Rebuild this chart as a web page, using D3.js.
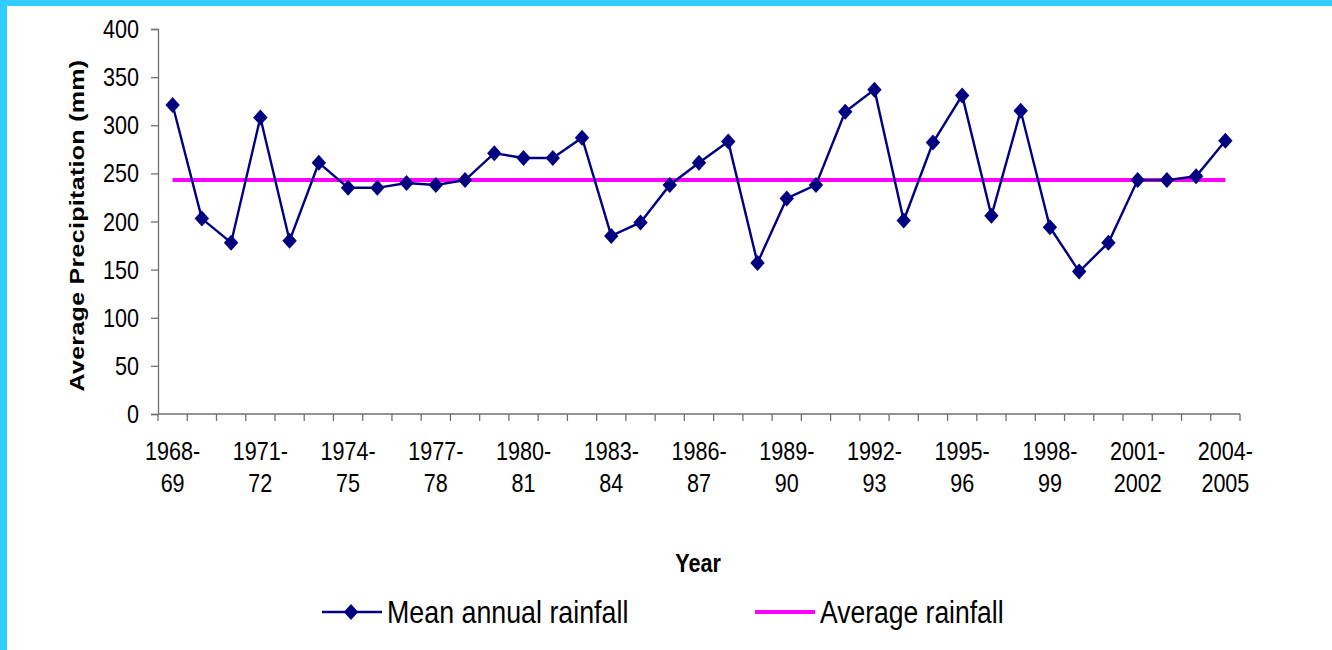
<!DOCTYPE html>
<html>
<head>
<meta charset="utf-8">
<script src="https://cdn.jsdelivr.net/npm/d3@7"></script>
<style>
  html, body { margin: 0; padding: 0; background: #fff; }
  svg { display: block; }
  text { font-family: "Liberation Sans", Arial, sans-serif; fill: #000; }
</style>
</head>
<body>
<svg id="chart" width="1332" height="650"></svg>
<script>
// Hydrological years
const seasons = [
  "1968-69","1969-70","1970-71","1971-72","1972-73","1973-74","1974-75","1975-76",
  "1976-77","1977-78","1978-79","1979-80","1980-81","1981-82","1982-83","1983-84",
  "1984-85","1985-86","1986-87","1987-88","1988-89","1989-90","1990-91","1991-92",
  "1992-93","1993-94","1994-95","1995-96","1996-97","1997-98","1998-99","1999-2000",
  "2000-2001","2001-2002","2002-2003","2003-2004","2004-2005"
];

// Mean annual rainfall per season (mm)
const meanRainfall = [
  321, 203, 178, 308, 180, 261, 235, 235, 240, 238, 243, 271, 266, 266, 287, 185,
  199, 238, 261, 283, 157, 224, 238, 314, 337, 201, 282, 331, 206, 315, 194, 148,
  178, 243, 243, 247, 284
];

// Long-term average rainfall (mm)
const averageRainfall = 243;

// Axis ticks and which seasons get a label
const yTicks = [0, 50, 100, 150, 200, 250, 300, 350, 400];
const labelledSeasons = seasons.filter((d, i) => i % 3 === 0);

// Text is drawn in a slightly narrowed face
const SX = 0.83;

const svg = d3.select("#chart");

// Frame
svg.append("rect").attr("x", 0).attr("y", 0).attr("width", 1332).attr("height", 6).attr("fill", "#33ccff");
svg.append("rect").attr("x", 0).attr("y", 0).attr("width", 7).attr("height", 650).attr("fill", "#33ccff");

const x = d3.scaleBand().domain(seasons).range([158, 1240]);
const y = d3.scaleLinear().domain([0, 400]).range([414, 29]);
const cx = d => x(d) + x.bandwidth() / 2;
const axisColor = "#707070";

// Narrow text helper: places text at (tx, ty) and compresses it horizontally
function narrowText(sel, tx, ty, size, anchor, sx) {
  return sel.append("text")
    .attr("transform", `translate(${tx},${ty}) scale(${sx || SX},1)`)
    .attr("font-size", size)
    .attr("text-anchor", anchor || "start");
}

// Y axis
const yAxis = svg.append("g")
  .attr("transform", "translate(158,0)")
  .call(d3.axisLeft(y).tickValues(yTicks).tickSize(7).tickFormat(""));
yAxis.select(".domain").attr("stroke", axisColor).attr("stroke-width", 1.3);
yAxis.selectAll(".tick line").attr("stroke", axisColor).attr("stroke-width", 1.3);
yTicks.forEach(v => {
  narrowText(svg, 139, y(v) + 9, 26, "end").text(v);
});

// X axis: baseline with ticks on season boundaries
const xg = svg.append("g");
xg.append("line")
  .attr("x1", x.range()[0]).attr("x2", x.range()[1])
  .attr("y1", y(0)).attr("y2", y(0))
  .attr("stroke", axisColor).attr("stroke-width", 1.3);
const edges = seasons.map(d => x(d)).concat([x.range()[1]]);
xg.selectAll("line.tick").data(edges).join("line")
  .attr("class", "tick")
  .attr("x1", d => d).attr("x2", d => d)
  .attr("y1", y(0)).attr("y2", y(0) + 7)
  .attr("stroke", axisColor).attr("stroke-width", 1.3);

labelledSeasons.forEach(s => {
  const [a, b] = s.split("-");
  narrowText(xg, cx(s), 460, 26, "middle").text(a + "-");
  narrowText(xg, cx(s), 492, 26, "middle").text(b);
});

// Axis titles
svg.append("text")
  .attr("transform", `translate(84,${(y(0) + y(400)) / 2 + 4}) rotate(-90) scale(1,${SX})`)
  .attr("text-anchor", "middle")
  .attr("font-size", 25)
  .attr("font-weight", "bold")
  .attr("letter-spacing", 0.3)
  .text("Average Precipitation (mm)");

narrowText(svg, 698, 572, 26, "middle")
  .attr("font-weight", "bold")
  .text("Year");

// Average rainfall line
svg.append("line")
  .attr("x1", cx(seasons[0])).attr("x2", cx(seasons[seasons.length - 1]))
  .attr("y1", y(averageRainfall)).attr("y2", y(averageRainfall))
  .attr("stroke", "#ff00ff").attr("stroke-width", 4);

// Mean annual rainfall series
const pts = seasons.map((s, i) => ({ s, v: meanRainfall[i] }));
svg.append("path")
  .datum(pts)
  .attr("fill", "none")
  .attr("stroke", "#000080")
  .attr("stroke-width", 2.4)
  .attr("d", d3.line().x(d => cx(d.s)).y(d => y(d.v)));

const diamond = "M0,-8L7.2,0L0,8L-7.2,0Z";
svg.selectAll("path.marker").data(pts).join("path")
  .attr("class", "marker")
  .attr("transform", d => `translate(${cx(d.s)},${y(d.v)})`)
  .attr("d", diamond)
  .attr("fill", "#000080");

// Legend
const legY = 612;
const leg = svg.append("g");
leg.append("line").attr("x1", 322).attr("x2", 382).attr("y1", legY).attr("y2", legY)
  .attr("stroke", "#000080").attr("stroke-width", 2.4);
leg.append("path").attr("transform", `translate(351,${legY})`).attr("d", diamond).attr("fill", "#000080");
narrowText(leg, 387, legY + 11, 31, "start", 0.865).text("Mean annual rainfall");
leg.append("line").attr("x1", 755).attr("x2", 815).attr("y1", legY).attr("y2", legY)
  .attr("stroke", "#ff00ff").attr("stroke-width", 4);
narrowText(leg, 820, legY + 11, 31, "start", 0.855).text("Average rainfall");
</script>
</body>
</html>
